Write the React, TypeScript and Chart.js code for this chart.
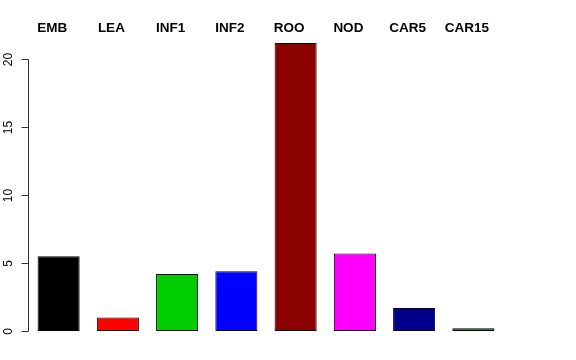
import React, { useEffect, useRef } from "react";
import { Chart, registerables } from "chart.js";

Chart.register(...registerables);

const categories = ["EMB", "LEA", "INF1", "INF2", "ROO", "NOD", "CAR5", "CAR15"];
const values = [5.5, 1.0, 4.2, 4.4, 21.2, 5.7, 1.7, 0.2];
const barColors = ["#000000", "#FF0000", "#00CD00", "#0000FF", "#8B0000", "#FF00FF", "#00008B", "#006400"];
const yTicks = [0, 5, 10, 15, 20];

const overlay = {
  id: "rOverlay",
  afterDraw(chart: any) {
    const ctx = chart.ctx;
    const y = chart.scales.y;
    const x = chart.scales.x;
    const area = chart.chartArea;
    ctx.save();
    const axX = area.left - 0.5;
    const yTop = y.getPixelForValue(yTicks[yTicks.length - 1]);
    const yBot = y.getPixelForValue(yTicks[0]);
    ctx.strokeStyle = "#333333";
    ctx.lineWidth = 1;
    ctx.beginPath();
    ctx.moveTo(axX, Math.round(yTop) + 0.5);
    ctx.lineTo(axX, Math.round(yBot) + 0.5);
    ctx.stroke();
    ctx.fillStyle = "#000000";
    ctx.font = "12px 'Liberation Sans', Arial, sans-serif";
    ctx.textAlign = "center";
    ctx.textBaseline = "middle";
    for (const t of yTicks) {
      const py = Math.round(y.getPixelForValue(t)) + 0.5;
      ctx.beginPath();
      ctx.moveTo(axX - 7, py);
      ctx.lineTo(axX, py);
      ctx.stroke();
      ctx.save();
      ctx.translate(9, py);
      ctx.rotate(-Math.PI / 2);
      ctx.fillText(String(t), 0, 0);
      ctx.restore();
    }
    ctx.font = "bold 13.5px 'Liberation Sans', Arial, sans-serif";
    ctx.textAlign = "center";
    ctx.textBaseline = "middle";
    categories.forEach((c, i) => {
      const px = x.getPixelForValue(i) - 6.5;
      ctx.fillText(c, px, 28);
    });
    ctx.restore();
  },
};

export default function App() {
  const ref = useRef<HTMLCanvasElement>(null);
  useEffect(() => {
    if (!ref.current) return;
    const chart = new Chart(ref.current, {
      type: "bar",
      data: {
        labels: categories,
        datasets: [
          {
            data: values,
            backgroundColor: barColors,
            borderColor: "#000000",
            borderWidth: 1,
            borderSkipped: false,
            categoryPercentage: 1,
            barPercentage: 0.71,
          },
        ],
      },
      options: {
        animation: false,
        responsive: false,
        devicePixelRatio: 1,
        layout: { padding: { left: 29, right: 73, top: 43, bottom: 29 } },
        plugins: { legend: { display: false }, tooltip: { enabled: false } },
        scales: {
          x: { display: false },
          y: { display: false, min: 0, max: 21.2 },
        },
      },
      plugins: [overlay],
    });
    return () => chart.destroy();
  }, []);
  return (
    <div style={{ position: "fixed", left: 0, top: 0, width: 576, height: 360, background: "#fff" }}>
      <canvas ref={ref} width={576} height={360} style={{ width: 576, height: 360 }} />
    </div>
  );
}
